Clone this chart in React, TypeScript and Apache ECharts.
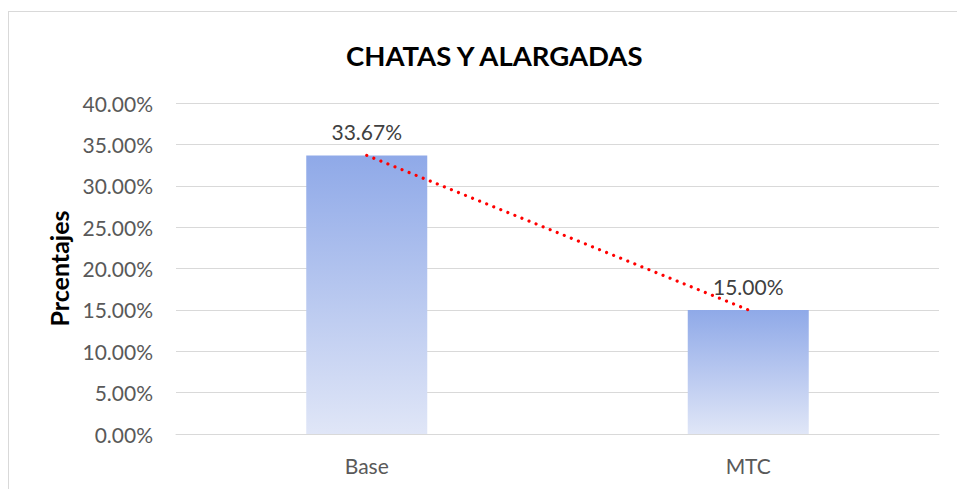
import React, { useEffect, useRef } from "react";
import * as echarts from "echarts";

const categories = ["Base", "MTC"];
const values = [0.3367, 0.15];
const yTicksMax = 0.4;
const yInterval = 0.05;

export default function App() {
  const ref = useRef<HTMLDivElement>(null);
  useEffect(() => {
    const chart = echarts.init(ref.current!, null, { renderer: "svg" });
    const font = "Lato, 'Open Sans', sans-serif";
    chart.setOption({
      animation: false,
      backgroundColor: "#ffffff",
      title: {
        text: "CHATAS Y ALARGADAS",
        left: 341,
        top: 36,
        textStyle: { fontFamily: font, fontWeight: "bold", fontSize: 27.5, color: "#000000" },
      },
      grid: { left: 176, right: 18, top: 103, bottom: 55, containLabel: false },
      xAxis: {
        type: "category",
        data: categories,
        axisLine: { show: true, lineStyle: { color: "#d9d9d9", width: 1 } },
        axisTick: { show: false },
        axisLabel: { fontFamily: font, fontSize: 21, color: "#595959", margin: 21 },
      },
      yAxis: {
        type: "value",
        min: 0,
        max: yTicksMax,
        interval: yInterval,
        name: "Prcentajes",
        nameLocation: "middle",
        nameGap: 104,
        nameTextStyle: { fontFamily: font, fontWeight: "bold", fontSize: 25, color: "#000000" },
        axisLine: { show: false },
        axisTick: { show: false },
        splitLine: { lineStyle: { color: "#d9d9d9", width: 1 } },
        axisLabel: {
          fontFamily: font,
          fontSize: 21,
          color: "#595959",
          margin: 23,
          formatter: (v: number) => (v * 100).toFixed(2) + "%",
        },
      },
      graphic: [
        { type: "line", shape: { x1: 8, y1: 11.5, x2: 957, y2: 11.5 }, style: { stroke: "#d9d9d9", lineWidth: 1 } },
        { type: "line", shape: { x1: 8.5, y1: 11, x2: 8.5, y2: 489 }, style: { stroke: "#d9d9d9", lineWidth: 1 } },
      ],
      series: [
        {
          type: "bar",
          data: values,
          barWidth: 121,
          itemStyle: {
            color: new echarts.graphic.LinearGradient(0, 0, 0, 1, [
              { offset: 0, color: "#8fa9e8" },
              { offset: 1, color: "#e0e6f7" },
            ]),
          },
          label: {
            show: true,
            position: "top",
            distance: 13,
            fontFamily: font,
            fontSize: 21,
            color: "#404040",
            formatter: (p: any) => (p.value * 100).toFixed(2) + "%",
          },
          z: 2,
        },
        {
          type: "line",
          data: values,
          symbol: "none",
          lineStyle: { color: "#ff0000", width: 3.2, type: [0.01, 7.6], cap: "round" },
          z: 3,
        },
      ],
    });
    return () => chart.dispose();
  }, []);
  return <div ref={ref} style={{ position: "fixed", left: 0, top: 0, width: 957, height: 489 }} />;
}
